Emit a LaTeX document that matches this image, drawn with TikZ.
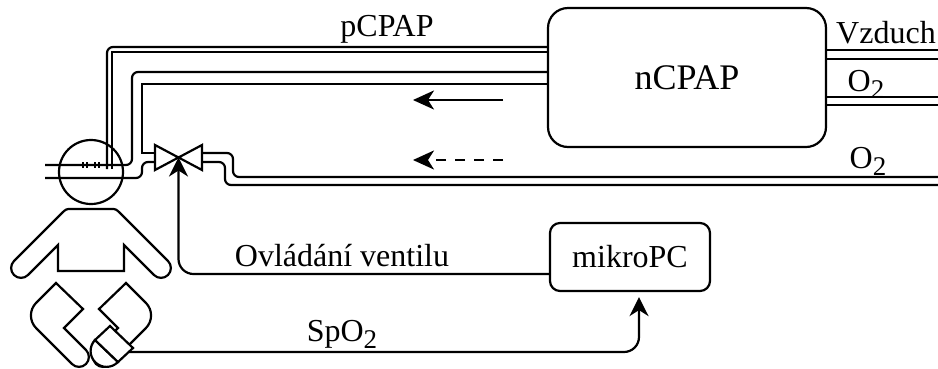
\documentclass[tikz,border=0pt]{standalone}
\usepackage{fontspec}
\setmainfont{Liberation Serif}
\usetikzlibrary{arrows.meta, positioning}

% lowered index digit for the gas formulas
\newcommand{\sbs}[1]{\raisebox{-7pt}{\fontsize{27}{27}\selectfont #1}}

\begin{document}
\begin{tikzpicture}[
    x=1pt, y=-1pt,
    line width=2.2pt,
    box/.style={draw, rectangle, rounded corners=#1, align=center, inner sep=0pt},
    pipe/.style={rounded corners=6pt},
    flow/.style={-{Stealth[length=21pt, width=19pt, inset=6pt]}},
    lbl/.style={font=\fontsize{32}{36}\selectfont, anchor=base, inner sep=0pt}
]
\useasboundingbox (0,0) rectangle (938,368);

% Devices
\node[box=20pt, minimum width=278pt, minimum height=139pt, font=\fontsize{36}{40}\selectfont] (ncpap) at (687,77.5) {nCPAP};
\node[box=10pt, minimum width=160pt, minimum height=68pt, font=\fontsize{32}{36}\selectfont] (mikropc) at (630,257) {mikroPC};
\node[draw, circle, minimum size=64pt, inner sep=0pt] (head) at (91,172) {};
\coordinate (valve) at (178.5,157.5);
\coordinate (spo2) at (129,352);

% Gas inlets
\draw (ncpap.east |- 0,50) -- (938,50);
\draw (ncpap.east |- 0,59) -- (938,59);
\draw (ncpap.east |- 0,97) -- (938,97);
\draw (ncpap.east |- 0,105) -- (938,105);
\node[lbl] (vzduch) at (886,43) {Vzduch};
\node[lbl] (o2a) at (866,91) {O\sbs{2}};

% pCPAP line to the nose
\draw[pipe] (ncpap.west |- 0,47) -- (107,47) -- (107,169);
\draw (ncpap.west |- 0,52) -- (112,52) -- (112,169);
\node[lbl] (pcpap) at (387,36) {pCPAP};

% Breathing tube and mask
\draw[pipe] (ncpap.west |- 0,72) -- (132,72) -- (132,165) -- (45,165);
\draw (ncpap.west |- 0,84) -- (142,84) -- (142,153) -- (155,153);
\draw[pipe] (155,162) -- (142,162) -- (142,178) -- (45,178);
\foreach \x in {83,87,95,99}
    \draw[line width=1.4pt] (\x,162) -- (\x,168);

% O2 supply into the valve
\draw[pipe] (202,153) -- (233,153) -- (233,177) -- (938,177);
\draw[pipe] (202,162) -- (225,162) -- (225,185) -- (938,185);
\node[lbl] (o2b) at (868,168) {O\sbs{2}};

% Valve
\draw[fill=white] (155,145) -- (155,170) -- (202,145) -- (202,170) -- cycle;

% Flow direction
\draw[flow] (503,100) -- (413,100);
\draw[flow, dash pattern=on 10pt off 9pt] (503,160) -- (413,160);

% Baby
\draw (58,245) -- (58,271) -- (124,271) -- (124,245) -- (154,275)
    arc[start angle=225, end angle=405, radius=9.9pt] -- (121,214)
    .. controls (116,209) .. (111,209) -- (71,209)
    .. controls (66,209) .. (61,214) -- (14,261)
    arc[start angle=135, end angle=315, radius=9.9pt] -- cycle;
\draw (56,283) -- (83,309) -- (64,328) -- (86,350)
    arc[start angle=45, end angle=-135, radius=9.9pt] -- (36.2,328.2)
    arc[start angle=225, end angle=135, radius=18pt] -- cycle;
\draw (126,283) -- (99,309) -- (118,328) -- (96,350)
    arc[start angle=135, end angle=315, radius=9.9pt] -- (145.8,328.2)
    arc[start angle=-45, end angle=45, radius=18pt] -- cycle;

% Oximeter clip
\draw[fill=white] (95,340) arc[start angle=136.3, end angle=316.3, radius=15.9pt] -- cycle;
\draw[fill=white] (110,326) -- (133,348) -- (118,362) -- (95,340) -- cycle;

% Signals
\draw[-{Stealth[length=19pt, width=19pt, inset=6pt]}, rounded corners=15pt]
    ([yshift=-17pt]mikropc.west) -| (valve);
\node[lbl] (ovl) at (342,266) {Ovládání ventilu};
\draw[-{Stealth[length=19pt, width=19pt, inset=6pt]}, rounded corners=15pt, shorten >=5pt]
    (spo2) -| ([xshift=9pt]mikropc.south);
\node[lbl] (spo2lbl) at (342,341) {SpO\sbs{2}};

\end{tikzpicture}
\end{document}
